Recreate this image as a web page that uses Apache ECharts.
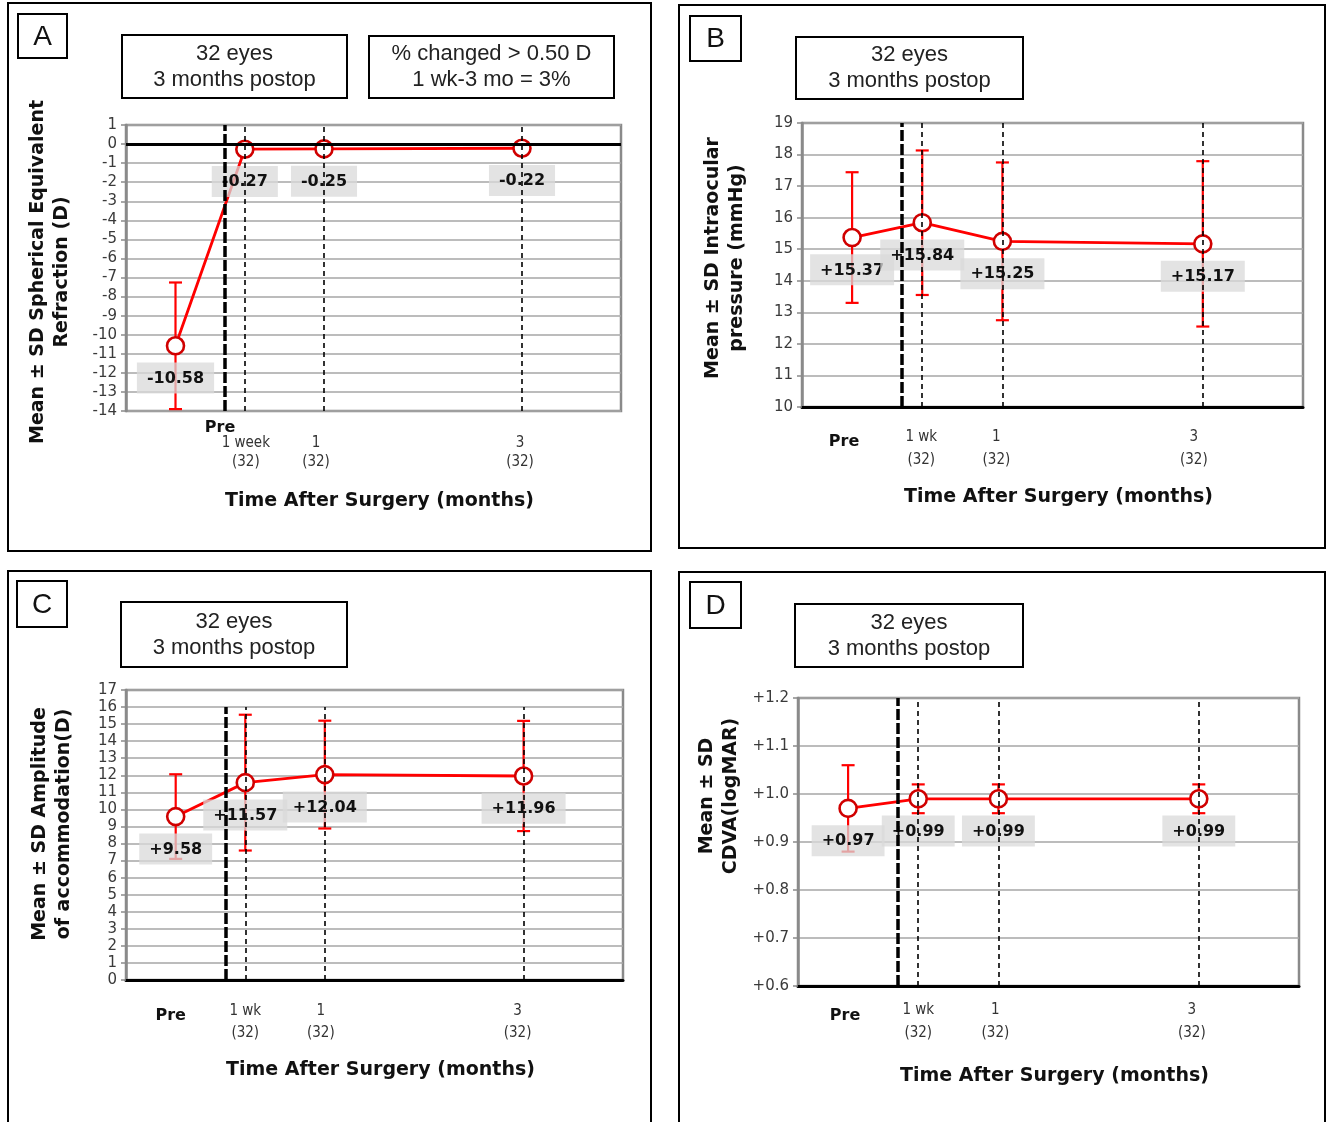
<!DOCTYPE html>
<html>
<head>
<meta charset="utf-8">
<script src="https://cdn.jsdelivr.net/npm/echarts@6/dist/echarts.min.js"></script>
<style>
html,body{margin:0;padding:0;background:#fff;}
#main{width:1327px;height:1122px;}
</style>
</head>
<body>
<div id="main"></div>
<script>
// time after surgery in months (pre-op drawn at -0.5, surgery at 0)
var timeMonths = [-0.5, 0.2, 1, 3];
var surgeryAt = 0;

// A - spherical equivalent refraction (D)
var seMean = [-10.58, -0.27, -0.25, -0.22];
var seSD = [3.32, null, null, null];
// B - intraocular pressure (mmHg)
var iopMean = [15.37, 15.84, 15.25, 15.17];
var iopSD = [2.07, 2.29, 2.5, 2.62];
// C - amplitude of accommodation (D)
var accMean = [9.58, 11.57, 12.04, 11.96];
var accSD = [2.48, 3.98, 3.16, 3.23];
// D - CDVA (logMAR)
var cdvaMean = [0.97, 0.99, 0.99, 0.99];
var cdvaSD = [0.09, 0.03, 0.03, 0.03];

// x tick labels
var tickLabelsA = ['Pre', '1 week', '1', '3'];
var tickLabels = ['Pre', '1 wk', '1', '3'];
var tickCounts = ['', '(32)', '(32)', '(32)'];

var infoBox = ['32 eyes', '3 months postop'];
var changeBox = ['% changed > 0.50 D', '1 wk-3 mo = 3%'];
var xTitle = 'Time After Surgery (months)';

var FONT_V = 'DejaVu Sans';
var FONT_A = 'Liberation Sans';
var FONT_C = 'DejaVu Sans Condensed';

var panels = [
	{
		letter: 'A', mean: seMean, sd: seSD, ticks: tickLabelsA, ymin: -14, ymax: 1, step: 1, plus: false, dec: 0,
		grid: {left: 126, top: 125, width: 495, height: 286},
		frame: [8, 3, 643, 548], letterBox: [18, 14, 49, 44],
		boxes: [{r: [122, 35, 225, 63], t: infoBox}, {r: [369, 36, 245, 62], t: changeBox}],
		yName: 'Mean ± SD Spherical Equivalent\nRefraction (D)', yGap: 52, yPad: [0, 8, 0, 0],
		zeroLine: true, lineTop: 1,
		tk: {preDx: 44.5, preDy: 17, dy: 32, lh: 19, dx: [0, 1, -8, -2]}
	},
	{
		letter: 'B', mean: iopMean, sd: iopSD, ticks: tickLabels, ymin: 10, ymax: 19, step: 1, plus: true, dec: 0,
		grid: {left: 802, top: 123, width: 501, height: 284},
		frame: [679, 5, 646, 543], letterBox: [690, 16, 51, 45],
		boxes: [{r: [796, 37, 227, 62], t: infoBox}],
		yName: 'Mean ± SD Intraocular\npressure (mmHg)', yGap: 53, yPad: [0, 0, 0, 14],
		zeroLine: false, lineTop: 19,
		tk: {preDx: -8, preDy: 35, dy: 30, lh: 23, dx: [0, -1, -6, -9]}
	},
	{
		letter: 'C', mean: accMean, sd: accSD, ticks: tickLabels, ymin: 0, ymax: 17, step: 1, plus: true, dec: 0,
		grid: {left: 126, top: 690, width: 497, height: 290},
		frame: [8, 571, 643, 570], letterBox: [17, 581, 50, 46],
		boxes: [{r: [121, 602, 226, 65], t: infoBox}],
		yName: 'Mean ± SD Amplitude\nof accommodation(D)', yGap: 50, yPad: [0, 0, 0, 22],
		zeroLine: false, lineTop: 16,
		tk: {preDx: -5, preDy: 36, dy: 31, lh: 22, dx: [0, 0, -4, -6]}
	},
	{
		letter: 'D', mean: cdvaMean, sd: cdvaSD, ticks: tickLabels, ymin: 0.6, ymax: 1.2, step: 0.1, plus: true, dec: 1,
		grid: {left: 798, top: 698, width: 501, height: 288},
		frame: [679, 572, 646, 570], letterBox: [690, 582, 51, 46],
		boxes: [{r: [795, 604, 228, 63], t: infoBox}],
		yName: 'Mean ± SD\nCDVA(logMAR)', yGap: 55, yPad: [0, 0, 0, 92],
		zeroLine: false, lineTop: 1.2,
		tk: {preDx: -3, preDy: 30, dy: 24, lh: 23, dx: [0, 0, -3, -7]}
	}
];

function errorBar(params, api) {
	var x = api.value(0), m = api.value(1), s = api.value(2);
	var top = api.coord([x, m + s]);
	var bot = api.coord([x, m - s]);
	var w = 6.5;
	var st = {stroke: '#ff0000', lineWidth: 2.2, fill: null};
	return {
		type: 'group',
		children: [
			{type: 'line', shape: {x1: top[0], y1: top[1], x2: bot[0], y2: bot[1]}, style: st},
			{type: 'line', shape: {x1: top[0] - w, y1: top[1], x2: top[0] + w, y2: top[1]}, style: st},
			{type: 'line', shape: {x1: bot[0] - w, y1: bot[1], x2: bot[0] + w, y2: bot[1]}, style: st}
		]
	};
}

var grids = [], xAxes = [], yAxes = [], series = [];

panels.forEach(function (p, i) {
	grids.push({
		left: p.grid.left, top: p.grid.top, width: p.grid.width, height: p.grid.height,
		show: true, borderColor: '#8a8a8a', borderWidth: 2.5, backgroundColor: 'transparent'
	});
	xAxes.push({
		gridIndex: i, type: 'value', min: -1, max: 4,
		name: xTitle, nameLocation: 'middle', nameGap: 81,
		nameTextStyle: {fontFamily: FONT_V, fontWeight: 'bold', fontSize: 19, color: '#111', padding: [0, 0, 0, 12]},
		axisLine: {show: !p.zeroLine, onZero: false, lineStyle: {color: '#000', width: 3}},
		axisTick: {show: false}, axisLabel: {show: false}, splitLine: {show: false}
	});
	yAxes.push({
		gridIndex: i, type: 'value', min: p.ymin, max: p.ymax, interval: p.step,
		name: p.yName, nameLocation: 'middle', nameGap: p.yGap, nameRotate: 90,
		nameTextStyle: {fontFamily: FONT_V, fontWeight: 'bold', fontSize: 19, lineHeight: 24, color: '#111', padding: p.yPad},
		axisLine: {show: true, onZero: false, lineStyle: {color: '#8a8a8a', width: 2.5}},
		axisTick: {show: true, length: 5, lineStyle: {color: '#8a8a8a', width: 1.5}},
		axisLabel: {
			fontFamily: FONT_V, fontSize: 15, color: '#3a3a3a', margin: 9,
			formatter: function (v) {
				return (p.plus && p.dec ? '+' : '') + v.toFixed(p.dec);
			}
		},
		splitLine: {show: true, lineStyle: {color: '#a6a6a6', width: 1.5}}
	});

	var pts = [], err = [];
	for (var k = 0; k < timeMonths.length; k++) {
		pts.push([timeMonths[k], p.mean[k]]);
		if (p.sd[k] != null) err.push([timeMonths[k], p.mean[k], p.sd[k]]);
	}

	series.push({
		type: 'custom', xAxisIndex: i, yAxisIndex: i, z: 3, silent: true,
		renderItem: errorBar, encode: {x: 0, y: 1}, data: err
	});
	series.push({
		type: 'line', xAxisIndex: i, yAxisIndex: i, z: 4, silent: true,
		data: pts, symbol: 'circle', symbolSize: 17, showAllSymbol: true,
		lineStyle: {color: '#ff0000', width: 2.8},
		itemStyle: {color: '#fff', borderColor: '#d00000', borderWidth: 2.6},
		emphasis: {disabled: true},
		label: {
			show: true, position: 'bottom', distance: 7,
			formatter: function (prm) {
				var v = prm.value[1];
				return (p.plus ? '+' : '') + v.toFixed(2);
			},
			fontFamily: FONT_V, fontWeight: 'bold', fontSize: 16, lineHeight: 20, color: '#111',
			backgroundColor: 'rgba(218,218,218,0.75)', padding: [6, 10, 5, 10]
		}
	});

	var ml = [];
	ml.push([{coord: [surgeryAt, p.ymin], lineStyle: {color: '#000', width: 3.5, type: [11, 3]}}, {coord: [surgeryAt, p.lineTop]}]);
	timeMonths.slice(1).forEach(function (t) {
		ml.push([{coord: [t, p.ymin], lineStyle: {color: '#000', width: 1.6, type: [5, 4]}}, {coord: [t, p.lineTop]}]);
	});
	if (p.zeroLine) {
		ml.push([{coord: [-1, 0], lineStyle: {color: '#000', width: 3, type: 'solid'}}, {coord: [4, 0]}]);
	}
	series.push({
		type: 'line', xAxisIndex: i, yAxisIndex: i, z: 6, silent: true, data: [],
		markLine: {silent: true, symbol: ['none', 'none'], label: {show: false}, animation: false, data: ml}
	});
});

var chart = echarts.init(document.getElementById('main'));
chart.setOption({
	backgroundColor: '#fff',
	animation: false,
	grid: grids,
	xAxis: xAxes,
	yAxis: yAxes,
	series: series
});

// frames, boxes and x tick labels
var gfx = [];
function txt(x, y, text, font, size, weight, color, lh) {
	return {
		type: 'text', x: x, y: y, silent: true, z: 10,
		style: {
			text: text, fontFamily: font, fontSize: size, fontWeight: weight || 'normal', fill: color || '#222',
			lineHeight: lh, align: 'center', verticalAlign: 'middle', textAlign: 'center', textVerticalAlign: 'middle'
		}
	};
}
function box(r, lw) {
	return {type: 'rect', silent: true, z: 10, shape: {x: r[0], y: r[1], width: r[2], height: r[3]},
		style: {fill: 'none', stroke: '#000', lineWidth: lw || 2}};
}
panels.forEach(function (p, i) {
	gfx.push(box(p.frame, 2));
	gfx.push(box(p.letterBox, 2));
	gfx.push(txt(p.letterBox[0] + p.letterBox[2] / 2, p.letterBox[1] + p.letterBox[3] / 2 + 1, p.letter, FONT_A, 28, 'normal', '#111'));
	p.boxes.forEach(function (b) {
		gfx.push(box(b.r, 2));
		gfx.push(txt(b.r[0] + b.r[2] / 2, b.r[1] + b.r[3] / 2, b.t.join('\n'), FONT_A, 22, 'normal', '#222', 26));
	});
	var base = p.grid.top + p.grid.height;
	for (var k = 0; k < timeMonths.length; k++) {
		var px = chart.convertToPixel({xAxisIndex: i}, timeMonths[k]);
		if (k === 0) {
			gfx.push(txt(px + p.tk.preDx, base + p.tk.preDy, p.ticks[0], FONT_V, 16, 'bold', '#111'));
		} else {
			gfx.push(txt(px + p.tk.dx[k], base + p.tk.dy, p.ticks[k], FONT_C, 15, 'normal', '#333'));
			gfx.push(txt(px + p.tk.dx[k], base + p.tk.dy + p.tk.lh, tickCounts[k], FONT_C, 15, 'normal', '#333'));
		}
	}
});
chart.setOption({graphic: {elements: gfx}});
</script>
</body>
</html>
